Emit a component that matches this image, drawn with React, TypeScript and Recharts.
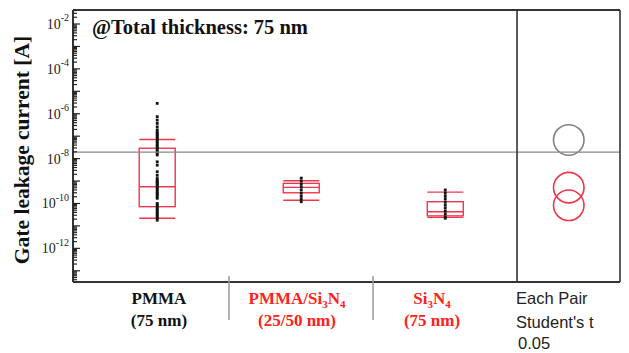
import React from 'react';
import { ComposedChart, Bar, XAxis, YAxis, ReferenceLine } from 'recharts';

// ---------- data (currents in A) ----------
const categories = ['PMMA', 'PMMA/Si3N4', 'Si3N4'];
const thicknessLabels = ['(75 nm)', '(25/50 nm)', '(75 nm)'];
const upperWhisker = [7.1e-8, 1.03e-9, 3.2e-10];
const q3 = [2.9e-8, 7.9e-10, 1.2e-10];
const median = [5.6e-10, 5.2e-10, 4.3e-11];
const q1 = [7.2e-11, 3.0e-10, 2.8e-11];
const lowerWhisker = [2.2e-11, 1.4e-10, 2.4e-11];

const pmmaPoints = [
  2.9e-6, 7.4e-7, 5.2e-7, 3.7e-7, 2.6e-7, 1.9e-7, 1.5e-7, 1.3e-7, 1.1e-7, 9.5e-8, 8.0e-8,
  6.8e-8, 5.7e-8, 4.8e-8, 4.0e-8, 3.4e-8, 2.9e-8, 2.4e-8, 2.0e-8, 1.7e-8, 1.45e-8, 7.2e-9,
  5.1e-9, 2.6e-9, 1.8e-9, 1.3e-9, 1.1e-9, 9.5e-10, 8.7e-10, 7.6e-10, 6.6e-10, 5.6e-10,
  4.7e-10, 4.0e-10, 3.3e-10, 2.8e-10, 2.4e-10, 2.0e-10, 1.7e-10, 1.0e-10, 8.5e-11, 7.1e-11,
  6.0e-11, 5.1e-11, 4.3e-11, 3.6e-11, 3.1e-11, 2.6e-11, 2.2e-11, 1.8e-11,
];
const bilayerPoints = [1.35e-9, 1.0e-9, 7.2e-10, 5.4e-10, 4.0e-10, 2.9e-10, 2.1e-10, 1.55e-10, 1.2e-10];
const nitridePoints = [4.0e-10, 2.95e-10, 2.15e-10, 1.6e-10, 1.15e-10, 8.5e-11, 6.3e-11, 4.6e-11, 3.4e-11, 2.5e-11, 2.2e-11];
const groupPoints = [pmmaPoints, bilayerPoints, nitridePoints];

const grandMean = 1.95e-8;

// comparison circles (Each Pair, Student's t, 0.05)
const circleCenters = [6.8e-8, 5.1e-10, 8.3e-11];
const circleRadiusDecades = 0.68;
const circleKinds = ['grey', 'red', 'red'];

const yLabelExponents = [-2, -4, -6, -8, -10, -12];
const yDecades = [-14, -13, -12, -11, -10, -9, -8, -7, -6, -5, -4, -3, -2, -1];

// ---------- layout / style ----------
const Y_MIN = -13.5;
const Y_MAX = -1.376;
const X_MIN = -0.583;
const X_MAX = 3.215;
const PANEL_X = 2.5;
const CMP_X = (PANEL_X + X_MAX) / 2;
const LABEL_DX = [2, -4, -13];
const BOX_RED = '#f0364c';
const TEXT_RED = '#ff2020';
const FRAME = '#333';
const SERIF = "'Liberation Serif', 'Times New Roman', serif";
const SANS = "'Liberation Sans', Arial, sans-serif";

const L = Math.log10;

const rows: any[] = [
  ...categories.map((c, i) => ({
    x: i,
    kind: 'box',
    name: c,
    range: [L(q1[i]), L(q3[i])],
    hi: L(upperWhisker[i]),
    lo: L(lowerWhisker[i]),
    med: L(median[i]),
    pts: groupPoints[i].map(L),
  })),
  ...circleCenters.map((c, i) => ({
    x: CMP_X,
    kind: 'circle',
    range: [L(c) - circleRadiusDecades, L(c) + circleRadiusDecades],
    color: circleKinds[i] === 'grey' ? '#808080' : BOX_RED,
  })),
];

const yTicks: number[] = [];
yDecades.forEach((d) => {
  for (let k = 1; k <= 9; k++) {
    const v = d + L(k);
    if (v >= Y_MIN && v <= Y_MAX) yTicks.push(v);
  }
});

const BoxShape = (props: any) => {
  const { x, y, width, height } = props;
  const p = props.payload ?? props;
  const top = Math.min(y, y + height);
  const h = Math.abs(height);
  const [v0, v1] = p.range;
  const toPx = (v: number) => top + ((v1 - v) / (v1 - v0)) * h;
  const cx = x + width / 2;
  if (p.kind === 'circle') {
    return <circle cx={cx} cy={top + h / 2} r={h / 2} fill="none" stroke={p.color} strokeWidth={1.6} />;
  }
  const left = x;
  const right = x + width;
  const yHi = toPx(p.hi);
  const yLo = toPx(p.lo);
  const yMed = toPx(p.med);
  return (
    <g>
      <line x1={cx} x2={cx} y1={yHi} y2={top} stroke={BOX_RED} strokeWidth={1.3} />
      <line x1={cx} x2={cx} y1={top + h} y2={yLo} stroke={BOX_RED} strokeWidth={1.3} />
      <line x1={left} x2={right} y1={yHi} y2={yHi} stroke={BOX_RED} strokeWidth={1.4} />
      <line x1={left} x2={right} y1={yLo} y2={yLo} stroke={BOX_RED} strokeWidth={1.4} />
      <rect x={left} y={top} width={width} height={h} fill="none" stroke={BOX_RED} strokeWidth={1.4} />
      <line x1={left} x2={right} y1={yMed} y2={yMed} stroke={BOX_RED} strokeWidth={1.4} />
      {p.pts.map((v: number, i: number) => (
        <rect key={i} x={cx - 1.4} y={toPx(v) - 1.4} width={2.8} height={2.8} fill="#111" />
      ))}
    </g>
  );
};

const YTick = (props: any) => {
  const { x, y, payload } = props;
  const v = payload.value;
  const exp = Math.round(v);
  const isMajor = Math.abs(v - exp) < 1e-6;
  const labeled = isMajor && yLabelExponents.includes(exp);
  return (
    <g>
      <line x1={x} x2={x + (isMajor ? 7 : 4)} y1={y} y2={y} stroke="#222" strokeWidth={1.2} />
      {labeled && (
        <text x={x - 4} y={y + 5} textAnchor="end" fontFamily={SERIF} fontSize={14} fill="#222">
          10
          <tspan dy={-7.5} fontSize={10}>{String(exp)}</tspan>
        </text>
      )}
    </g>
  );
};

const CategoryText = ({ name }: { name: string }) => {
  if (name.includes('Si3N4')) {
    const pre = name.replace('Si3N4', '');
    return (
      <>
        {pre}Si<tspan dy={4} fontSize={11}>3</tspan>
        <tspan dy={-4}>N</tspan>
        <tspan dy={4} fontSize={11}>4</tspan>
      </>
    );
  }
  return <>{name}</>;
};

const XTick = (props: any) => {
  const { x, y, payload } = props;
  const v = payload.value;
  if (Math.abs(v - PANEL_X) < 1e-6) {
    return (
      <g fontFamily={SANS} fontSize={16.5} fill="#222">
        <text x={x - 1} y={y + 22}>Each Pair</text>
        <text x={x - 1} y={y + 46}>Student's t</text>
        <text x={x + 1} y={y + 67}>0.05</text>
      </g>
    );
  }
  const i = Math.round(v);
  if (Math.abs(v - i) > 1e-6) {
    return <line x1={x} x2={x} y1={y - 6} y2={y + 38} stroke="#999" strokeWidth={1.5} />;
  }
  const color = i === 0 ? '#111' : TEXT_RED;
  return (
    <g fontFamily={SERIF} fontWeight="bold" fontSize={17} fill={color} textAnchor="middle">
      <text x={x + LABEL_DX[i]} y={y + 22}>
        <CategoryText name={categories[i]} />
      </text>
      <text x={x + LABEL_DX[i]} y={y + 43.5}>{thicknessLabels[i]}</text>
    </g>
  );
};

export default function App() {
  return (
    <div style={{ position: 'absolute', left: 0, top: 0, width: 629, height: 353, background: '#fff' }}>
      <ComposedChart
        width={629}
        height={353}
        data={rows}
        margin={{ top: 10, right: 9, bottom: 11, left: 13 }}
      >
        <XAxis
          type="number"
          dataKey="x"
          domain={[X_MIN, X_MAX]}
          allowDataOverflow
          ticks={[0, 0.5, 1, 1.5, 2, PANEL_X]}
          interval={0}
          tick={<XTick />}
          tickLine={false}
          tickSize={0}
          tickMargin={0}
          height={60}
          axisLine={{ stroke: FRAME, strokeWidth: 2 }}
        />
        <YAxis
          type="number"
          domain={[Y_MIN, Y_MAX]}
          allowDataOverflow
          ticks={yTicks}
          interval={0}
          tick={<YTick />}
          tickLine={false}
          tickSize={0}
          tickMargin={0}
          width={60}
          axisLine={{ stroke: FRAME, strokeWidth: 2 }}
        />
        <ReferenceLine y={L(grandMean)} stroke="#888" strokeWidth={1.3} />
        <ReferenceLine y={Y_MAX} stroke={FRAME} strokeWidth={2.2} />
        <ReferenceLine x={X_MAX} stroke={FRAME} strokeWidth={1.6} />
        <ReferenceLine x={PANEL_X} stroke={FRAME} strokeWidth={1.6} />
        <Bar dataKey="range" barSize={36} shape={<BoxShape />} isAnimationActive={false} />
      </ComposedChart>
      <svg
        width={629}
        height={353}
        style={{ position: 'absolute', left: 0, top: 0, pointerEvents: 'none' }}
      >
        <text x={92} y={34} fontFamily={SERIF} fontWeight="bold" fontSize={20.5} fill="#111">
          @Total thickness: 75 nm
        </text>
        <text
          x={29}
          y={150}
          transform="rotate(-90, 29, 150)"
          textAnchor="middle"
          fontFamily={SERIF}
          fontWeight="bold"
          fontSize={21.5}
          fill="#111"
        >
          Gate leakage current [A]
        </text>
      </svg>
    </div>
  );
}
